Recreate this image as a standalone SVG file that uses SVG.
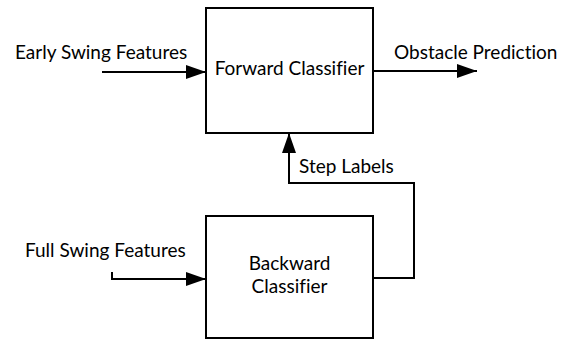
<svg xmlns="http://www.w3.org/2000/svg" width="580" height="344" viewBox="0 0 580 344">
  <defs>
    <marker id="arrow" viewBox="0 0 20 14" refX="20" refY="7" markerWidth="20" markerHeight="14" markerUnits="userSpaceOnUse" orient="auto">
      <path d="M0,0 L20,7 L0,14 Z" fill="#000"/>
    </marker>
    <style>
      .box { fill: #fff; stroke: #000; stroke-width: 2; }
      .wire { fill: none; stroke: #000; stroke-width: 2; }
      .lbl { font-family: Lato, "Open Sans", sans-serif; font-size: 19px; fill: #000; font-variant-ligatures: none; }
      .mid { text-anchor: middle; }
    </style>
  </defs>
  <rect width="580" height="344" fill="#fff"/>

  <g id="connectors">
    <path class="wire" d="M102,72 H206" marker-end="url(#arrow)"/>
    <path class="wire" d="M373,71 H477" marker-end="url(#arrow)"/>
    <path class="wire" d="M112,272 V279 H206" marker-end="url(#arrow)"/>
    <path class="wire" d="M373,278 H414 V183 H289 V133" marker-end="url(#arrow)"/>
  </g>

  <g id="forward-classifier">
    <rect class="box" x="206" y="8" width="167" height="125"/>
    <text class="lbl mid" x="289.5" y="75">Forward Classifier</text>
  </g>

  <g id="backward-classifier">
    <rect class="box" x="206" y="216" width="167" height="122"/>
    <text class="lbl mid" x="289.5" y="270">Backward</text>
    <text class="lbl mid" x="289.5" y="293">Classifier</text>
  </g>

  <g id="labels">
    <text class="lbl" x="15" y="59">Early Swing Features</text>
    <text class="lbl" x="394" y="59">Obstacle Prediction</text>
    <text class="lbl" x="299" y="173">Step Labels</text>
    <text class="lbl" x="25" y="257">Full Swing Features</text>
  </g>
</svg>
